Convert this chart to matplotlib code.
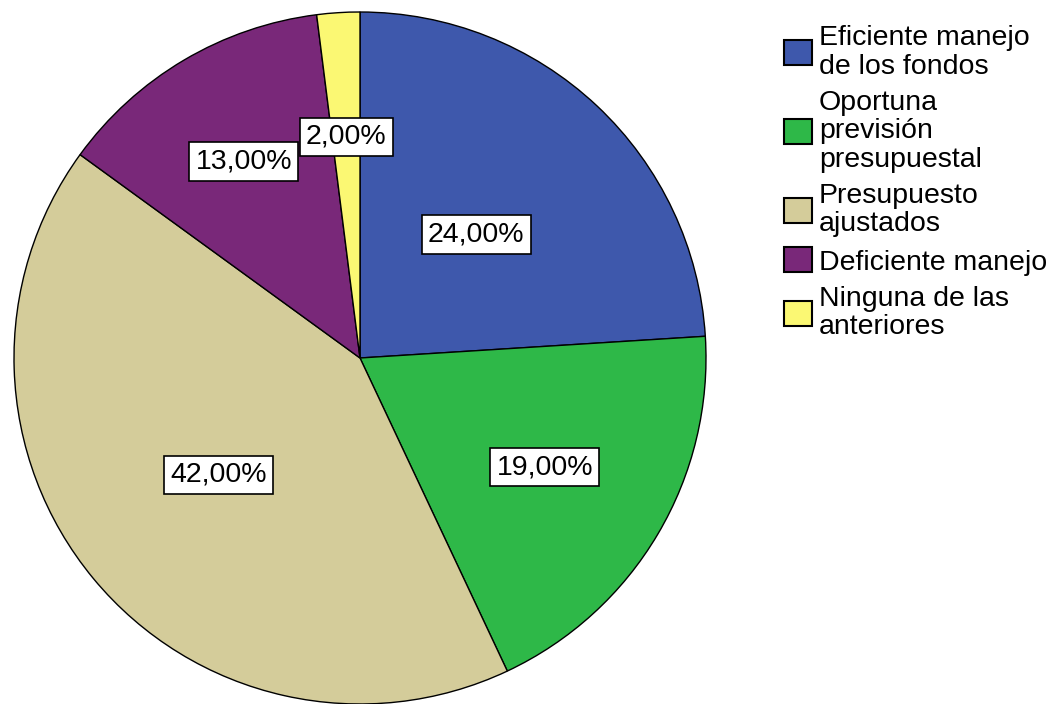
import numpy as np
import matplotlib
matplotlib.use("Agg")
import matplotlib.pyplot as plt

plt.rcParams['font.family'] = ['Liberation Sans', 'DejaVu Sans']

# Datos del grafico
categorias = ["Eficiente manejo\nde los fondos",
              "Oportuna\nprevisión\npresupuestal",
              "Presupuesto\najustados",
              "Deficiente manejo",
              "Ninguna de las\nanteriores"]
porcentajes = [24.0, 19.0, 42.0, 13.0, 2.0]
colores = ["#3E58AC", "#2EB848", "#D4CC9A", "#792879", "#FBF873"]

# distancia radial de cada etiqueta (fraccion del radio)
dist_etiquetas = [0.49, 0.62, 0.53, 0.66, 0.64]

W, H = 1052, 704
CENTRO = (360, H - 358)
RADIO = 346


def main():
    fig = plt.figure(figsize=(W / 100, H / 100), dpi=100)
    ax = fig.add_axes([0, 0, 1, 1])

    wedges, _ = ax.pie(porcentajes, colors=colores, startangle=90,
                       counterclock=False, center=CENTRO, radius=RADIO,
                       wedgeprops=dict(edgecolor='black', linewidth=1.0),
                       frame=True)
    ax.set_xlim(0, W)
    ax.set_ylim(0, H)
    ax.set_aspect('equal')
    ax.set_axis_off()

    # etiquetas con recuadro blanco (en orden inverso: 13% queda encima del 2%)
    for i in reversed(range(len(wedges))):
        w = wedges[i]
        ang = np.deg2rad((w.theta1 + w.theta2) / 2)
        x = CENTRO[0] + dist_etiquetas[i] * RADIO * np.cos(ang)
        y = CENTRO[1] + dist_etiquetas[i] * RADIO * np.sin(ang)
        txt = f"{porcentajes[i]:.2f}%".replace('.', ',')
        ax.text(x, y, txt, ha='center', va='center', fontsize=20.5,
                bbox=dict(boxstyle='square,pad=0.22', facecolor='white',
                          edgecolor='black', linewidth=1.2),
                zorder=5)

    leg = ax.legend(wedges, categorias, loc='upper left',
                    bbox_to_anchor=(784 / W, 1 - 25 / H),
                    bbox_transform=fig.transFigure,
                    frameon=False, fontsize=20.5, handlelength=0.98,
                    handleheight=0.98, handletextpad=0.25,
                    labelspacing=0.35, borderaxespad=0, borderpad=0)
    for t in leg.get_texts():
        t.set_linespacing(1.13)
    for h in leg.legend_handles:
        h.set_edgecolor('black')
        h.set_linewidth(1.5)

    fig.savefig("out.png", dpi=100)


if __name__ == "__main__":
    main()
